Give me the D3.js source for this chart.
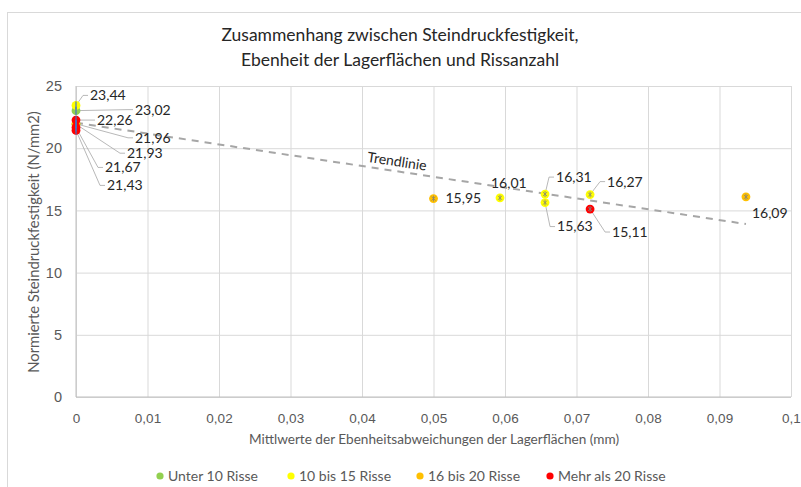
<!DOCTYPE html>
<html lang="de">
<head>
<meta charset="UTF-8">
<script src="https://d3js.org/d3.v7.min.js"></script>
<style>
  body { margin: 0; background: #fff; }
  svg { display: block; font-family: Lato, "Open Sans", sans-serif; }
</style>
</head>
<body>
<svg id="chart" width="801" height="487"></svg>
<script>
// Daten
const groups = ["Unter 10 Risse", "10 bis 15 Risse", "16 bis 20 Risse", "Mehr als 20 Risse"];
const groupColors = ["#92D050", "#FFFF00", "#FFC000", "#FF0000"];

const ebenheit = [0, 0, 0, 0, 0, 0, 0, 0.05, 0.0593, 0.0656, 0.0656, 0.0719, 0.0719, 0.0937];
const festigkeit = [23.44, 23.02, 22.26, 21.96, 21.93, 21.67, 21.43, 15.95, 16.01, 16.31, 15.63, 16.27, 15.11, 16.09];
const gruppe = [1, 0, 3, 2, 0, 3, 3, 2, 1, 1, 1, 1, 3, 2];

const xTicks = [0, 0.01, 0.02, 0.03, 0.04, 0.05, 0.06, 0.07, 0.08, 0.09, 0.1];
const yTicks = [0, 5, 10, 15, 20, 25];

// Label-Versatz (px) relativ zum Punkt, mit/ohne Fuehrungslinie
const labelOffset = [[14, -10], [59, -1], [21, 0], [59, 14], [51, 29], [29, 40], [31, 55],
                     [12, 0], [-9, -15], [11, -17], [12, 24], [17, -13], [22, 23], [6, 16]];
const hasLeader = [1, 1, 1, 1, 1, 1, 1, 0, 0, 1, 1, 1, 1, 0];

const svg = d3.select("#chart");
const mLeft = 76, mRight = 791, mTop = 86, mBottom = 397;

const x = d3.scaleLinear().domain([0, 0.1]).range([mLeft, mRight]);
const y = d3.scaleLinear().domain([0, 25]).range([mBottom, mTop]);
const fmt = d3.formatLocale({decimal: ",", thousands: ".", grouping: [3], currency: ["", "€"]});
const fx = v => v === 0 ? "0" : fmt.format("~g")(v);

// Rahmen
svg.append("rect").attr("x", 7.5).attr("y", 12.5).attr("width", 820).attr("height", 500)
  .attr("fill", "none").attr("stroke", "#d9d9d9");

// Titel
svg.append("text").attr("x", 400).attr("y", 41).attr("text-anchor", "middle")
  .style("font-size", "17.5px").attr("fill", "#262626").text("Zusammenhang zwischen Steindruckfestigkeit,");
svg.append("text").attr("x", 400).attr("y", 66).attr("text-anchor", "middle")
  .style("font-size", "17.5px").attr("fill", "#262626").text("Ebenheit der Lagerflächen und Rissanzahl");

// Gitter
svg.append("g").attr("transform", "translate(0," + mBottom + ")")
  .call(d3.axisBottom(x).tickValues(xTicks).tickSize(-(mBottom - mTop)).tickFormat(fx))
  .call(g => g.select(".domain").remove())
  .call(g => g.selectAll("line").attr("stroke", "#d9d9d9"))
  .call(g => g.selectAll("text").attr("dy", 0).attr("y", 26).attr("fill", "#595959").style("font-size", "13.5px"));

svg.append("g").attr("transform", "translate(" + mLeft + ",0)")
  .call(d3.axisLeft(y).tickValues(yTicks).tickSize(-(mRight - mLeft)))
  .call(g => g.select(".domain").remove())
  .call(g => g.selectAll("line").attr("stroke", "#d9d9d9"))
  .call(g => g.selectAll("text").attr("x", -14).attr("fill", "#595959").style("font-size", "14.5px"));

svg.append("line").attr("x1", mLeft).attr("x2", mLeft).attr("y1", mTop).attr("y2", mBottom)
  .attr("stroke", "#bfbfbf");
svg.append("line").attr("x1", mLeft).attr("x2", mRight).attr("y1", mBottom).attr("y2", mBottom)
  .attr("stroke", "#bfbfbf");

// Achsentitel
svg.append("text").attr("x", 434).attr("y", 444).attr("text-anchor", "middle")
  .style("font-size", "13.6px").attr("fill", "#595959")
  .text("Mittlwerte der Ebenheitsabweichungen der Lagerflächen (mm)");
svg.append("text").attr("transform", "translate(39,242) rotate(-90)").attr("text-anchor", "middle")
  .style("font-size", "14.8px").attr("fill", "#595959")
  .text("Normierte Steindruckfestigkeit (N/mm2)");

// Trendlinie (lineare Regression)
const mx = d3.mean(ebenheit), my = d3.mean(festigkeit);
const sxy = d3.sum(ebenheit, (v, i) => (v - mx) * (festigkeit[i] - my));
const sxx = d3.sum(ebenheit, v => (v - mx) * (v - mx));
const slope = sxy / sxx, icpt = my - slope * mx;
const xmax = d3.max(ebenheit);
svg.append("line")
  .attr("x1", x(0)).attr("y1", y(icpt))
  .attr("x2", x(xmax)).attr("y2", y(icpt + slope * xmax))
  .attr("stroke", "#a6a6a6").attr("stroke-width", 2).attr("stroke-dasharray", "7,6");

const tx = 0.0448;
const ang = Math.atan2(y(icpt + slope * 0.01) - y(icpt), x(0.01) - x(0)) * 180 / Math.PI;
svg.append("text")
  .attr("transform", "translate(" + x(tx) + "," + (y(icpt + slope * tx) - 5) + ") rotate(" + ang + ")")
  .attr("text-anchor", "middle").style("font-size", "14px").attr("fill", "#262626").text("Trendlinie");

// Punkte
const pts = ebenheit.map((v, i) => ({x: v, y: festigkeit[i], g: gruppe[i], i: i}));
const order = pts.slice().sort((a, b) => a.g - b.g);

// Fuehrungslinien
svg.append("g").selectAll("polyline").data(pts.filter(d => hasLeader[d.i])).join("polyline")
  .attr("points", d => {
    const px = x(d.x), py = y(d.y), o = labelOffset[d.i];
    return [[px, py], [px + o[0] - 7, py + o[1]], [px + o[0] - 2, py + o[1]]].join(" ");
  })
  .attr("fill", "none").attr("stroke", "#a6a6a6").attr("stroke-width", 0.8);

svg.append("g").selectAll("circle").data(order).join("circle")
  .attr("cx", d => x(d.x)).attr("cy", d => y(d.y)).attr("r", 4.4)
  .attr("fill", d => groupColors[d.g]);

// Fehlerbalken
const eb = svg.append("g");
order.forEach(d => {
  const px = x(d.x), py = y(d.y);
  if (d.x === 0) {
    eb.append("line").attr("x1", px).attr("x2", px).attr("y1", py - 4).attr("y2", py + 4)
      .attr("stroke", "#4472C4").attr("stroke-width", 1.2);
  } else {
    eb.append("line").attr("x1", px).attr("x2", px).attr("y1", py - 3).attr("y2", py + 3)
      .attr("stroke", "#7f7f7f").attr("stroke-width", 0.8);
    eb.append("line").attr("x1", px - 2).attr("x2", px + 2).attr("y1", py - 2).attr("y2", py + 2)
      .attr("stroke", "#7f7f7f").attr("stroke-width", 0.8);
    eb.append("line").attr("x1", px - 2).attr("x2", px + 2).attr("y1", py + 2).attr("y2", py - 2)
      .attr("stroke", "#7f7f7f").attr("stroke-width", 0.8);
  }
});

// Datenbeschriftungen
svg.append("g").selectAll("text").data(pts).join("text")
  .attr("x", d => x(d.x) + labelOffset[d.i][0])
  .attr("y", d => y(d.y) + labelOffset[d.i][1])
  .attr("dy", "0.35em").style("font-size", "14px").attr("fill", "#262626")
  .text(d => fmt.format(".2f")(d.y));

// Legende
const legX = [160, 291, 420, 550];
const leg = svg.append("g").selectAll("g").data(groups).join("g")
  .attr("transform", (d, i) => "translate(" + legX[i] + ",476)");
leg.append("circle").attr("r", 3.6).attr("fill", (d, i) => groupColors[i]);
leg.append("text").attr("x", 8).attr("dy", "0.35em").style("font-size", "14px")
  .attr("fill", "#595959").text(d => d);
</script>
</body>
</html>
